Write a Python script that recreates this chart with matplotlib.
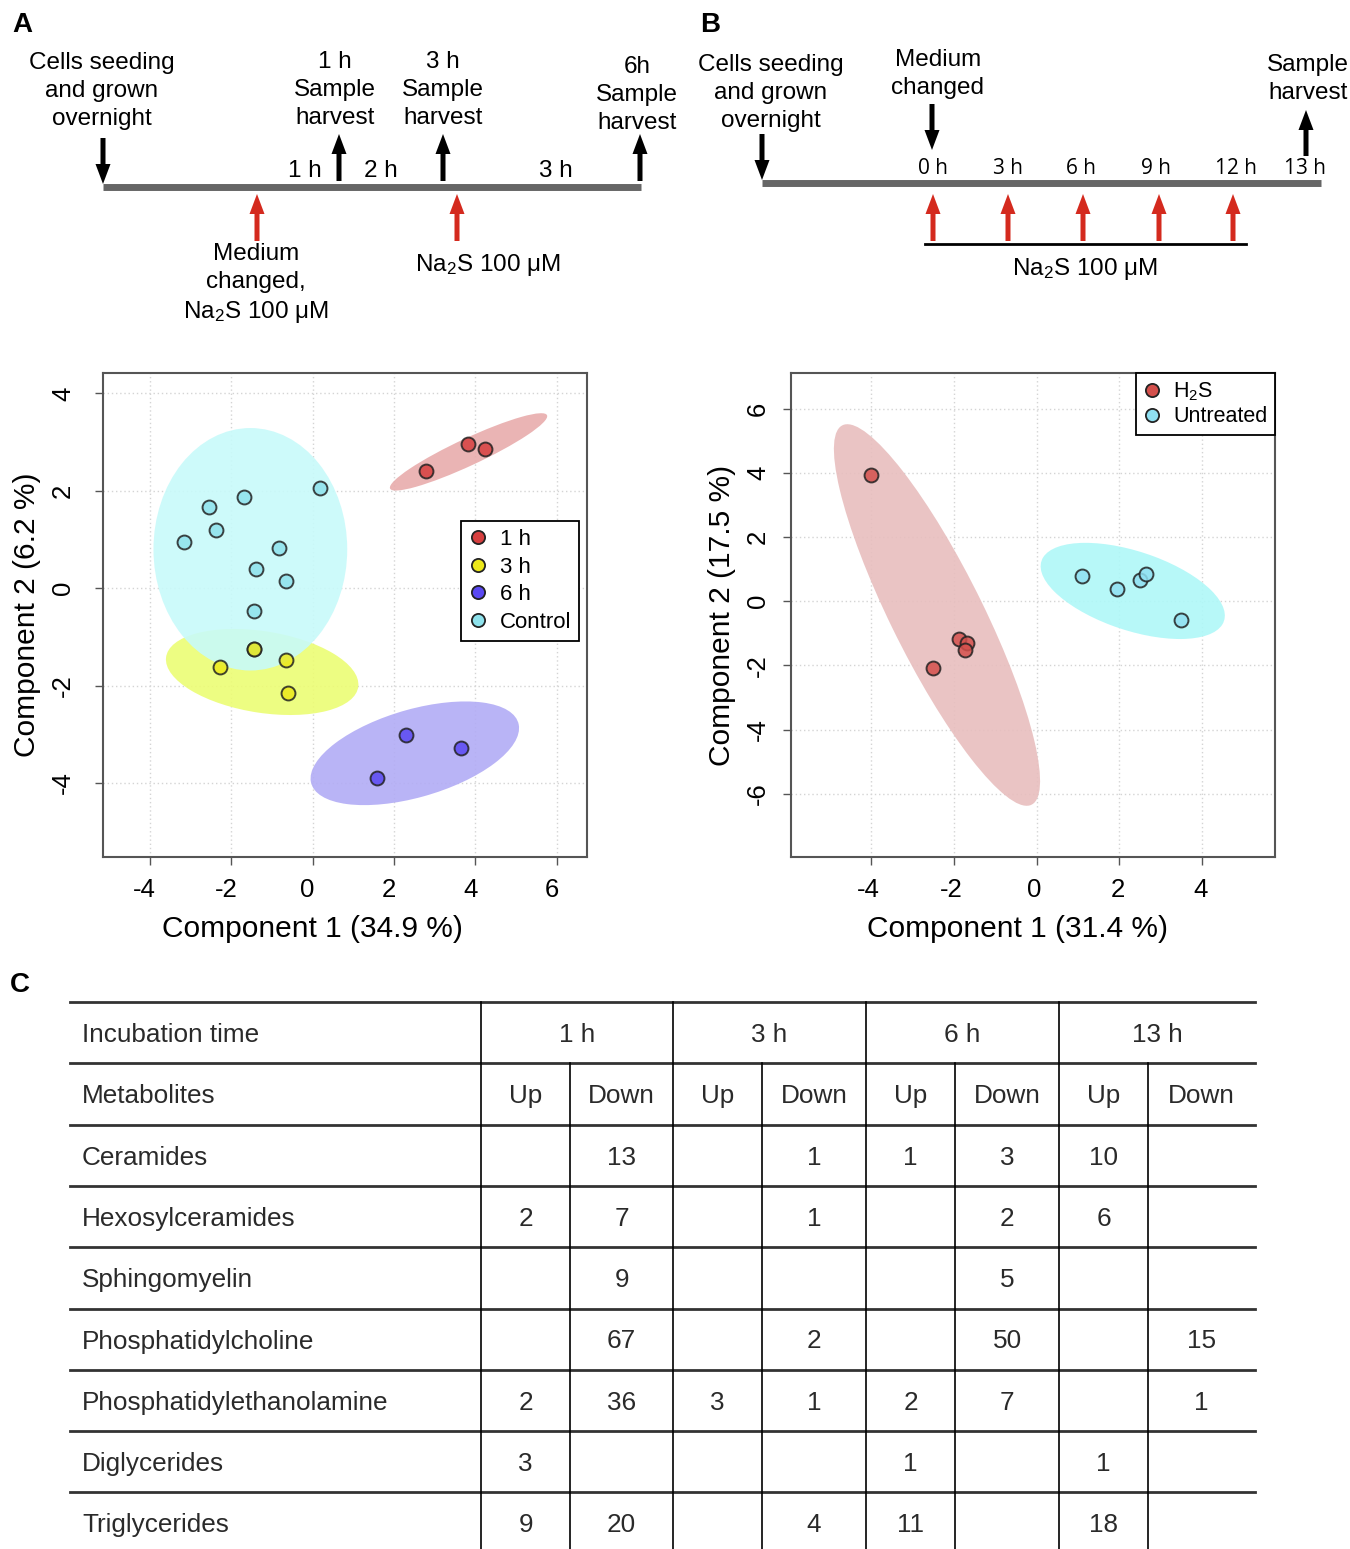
import numpy as np
import matplotlib
matplotlib.use("Agg")
import matplotlib.pyplot as plt
from matplotlib.patches import Ellipse, FancyArrow
from matplotlib.lines import Line2D
from matplotlib.transforms import ScaledTranslation

plt.rcParams["font.family"] = ["Liberation Sans", "DejaVu Sans"]
plt.rcParams["mathtext.fontset"] = "custom"
plt.rcParams["mathtext.rm"] = "Liberation Sans"
plt.rcParams["mathtext.it"] = "Liberation Sans:italic"
plt.rcParams["mathtext.bf"] = "Liberation Sans:bold"

# ---------------- panel A scores
a_groups = ["1 h", "3 h", "6 h", "Control"]
a_pc1 = [[2.79, 3.81, 4.24],
         [-2.28, -0.65, -0.61, -1.43],
         [2.29, 3.64, 1.57],
         [-3.15, -2.54, -2.37, -1.68, 0.17, -0.83, -1.38, -0.66, -1.45, -1.43]]
a_pc2 = [[2.41, 2.97, 2.86],
         [-1.62, -1.48, -2.15, -1.24],
         [-3.01, -3.29, -3.89],
         [0.95, 1.66, 1.19, 1.87, 2.05, 0.83, 0.39, 0.15, -0.47, -1.24]]
a_colors = ["#d63f3f", "#ece81a", "#5a48f2", "#8ee2ec"]
a_fills = ["#e8acac", "#ecfd74", "#b2acf5", "#c8fafa"]
# confidence ellipses: centre, semi axes, rotation (data units)
a_ell_cx = [3.83, -1.24, 2.51, -1.53]
a_ell_cy = [2.80, -1.72, -3.39, 0.80]
a_ell_a = [2.07, 2.38, 2.62, 2.38]
a_ell_b = [0.285, 0.84, 0.91, 2.49]
a_ell_ang = [21.2, -7.1, 13.0, 0.0]

# ---------------- panel B scores
b_groups = ["H$_2$S", "Untreated"]
b_pc1 = [[-3.98, -2.49, -1.87, -1.67, -1.72],
         [1.09, 1.95, 2.49, 2.63, 3.49]]
b_pc2 = [[3.92, -2.07, -1.19, -1.29, -1.51],
         [0.77, 0.38, 0.67, 0.85, -0.59]]
b_colors = ["#d4504c", "#8fe0f2"]
b_fills = ["#e8bebe", "#aff8f8"]
b_ell_cx = [-2.40, 2.32]
b_ell_cy = [-0.43, 0.32]
b_ell_a = [6.34, 2.40]
b_ell_b = [1.15, 1.19]
b_ell_ang = [-69.3, -25.9]

# ---------------- table C
time_points = ["1 h", "3 h", "6 h", "13 h"]
metabolites = ["Ceramides", "Hexosylceramides", "Sphingomyelin",
               "Phosphatidylcholine", "Phosphatidylethanolamine",
               "Diglycerides", "Triglycerides"]
# columns: 1h up, 1h down, 3h up, 3h down, 6h up, 6h down, 13h up, 13h down
counts = [["", "13", "", "1", "1", "3", "10", ""],
          ["2", "7", "", "1", "", "2", "6", ""],
          ["", "9", "", "", "", "5", "", ""],
          ["", "67", "", "2", "", "50", "", "15"],
          ["2", "36", "3", "1", "2", "7", "", "1"],
          ["3", "", "", "", "1", "", "1", ""],
          ["9", "20", "", "4", "11", "", "18", ""]]

W, H = 1350, 1549
fig = plt.figure(figsize=(W / 100, H / 100), dpi=100)
bg = fig.add_axes([0, 0, 1, 1])
bg.set_xlim(0, W)
bg.set_ylim(H, 0)
bg.axis("off")

TXT = 17.5


def arrow(x, y0, y1, color):
    bg.add_patch(FancyArrow(x, y0, 0, y1 - y0, width=5, head_width=15,
                            head_length=20, length_includes_head=True,
                            color=color, lw=0))


def label(x, y, s, size=TXT, **kw):
    bg.text(x, y, s, fontsize=size, ha="center", va="center",
            linespacing=1.36, **kw)


RED = "#d42a1e"
NA2S = "Na$_2$S 100 μM"

# ---- timeline A
bg.text(12, 25, "A", fontsize=20, fontweight="bold", va="center")
bg.plot([103, 641], [187, 187], color="#666666", lw=5, solid_capstyle="butt")
arrow(103, 138, 184, "black")
for xa in [339, 443, 640]:
    arrow(xa, 181, 134, "black")
for xa in [257, 457]:
    arrow(xa, 241, 194, RED)
label(102, 91, "Cells seeding\nand grown\novernight")
label(335, 90, "1 h\nSample\nharvest")
label(443, 90, "3 h\nSample\nharvest")
label(637, 95, "6h\nSample\nharvest")
for xs, s in zip([305, 381, 556], ["1 h", "2 h", "3 h"]):
    label(xs, 171, s)
label(256, 284, "Medium\nchanged,\n" + NA2S)
label(488, 265, NA2S)

# ---- timeline B
bg.text(700, 25, "B", fontsize=20, fontweight="bold", va="center")
bg.plot([762, 1321], [183, 183], color="#666666", lw=5, solid_capstyle="butt")
arrow(762, 134, 180, "black")
arrow(932, 104, 150, "black")
arrow(1306, 156, 110, "black")
for xa in [933, 1008, 1083, 1159, 1233]:
    arrow(xa, 241, 194, RED)
bg.plot([925, 1246], [244, 244], color="black", lw=2)
label(771, 93, "Cells seeding\nand grown\novernight")
label(938, 74, "Medium\nchanged")
label(1308, 79, "Sample\nharvest")
for xs, s in zip([933, 1008, 1081, 1156, 1236, 1305],
                 ["0 h", "3 h", "6 h", "9 h", "12 h", "13 h"]):
    bg.text(xs, 168, s, fontsize=15, ha="center", va="center",
            family=["Open Sans", "DejaVu Sans"])
label(1085, 269, NA2S)


# ---- PCA panels
def pca(rect, xs, ys, names, cols, fills, ecx, ecy, ea, eb, eang,
        xlim, ylim, xticks, yticks, xlab, ylab, leg_anchor, leg_loc,
        ypad, ylab_x, xlab_x, xshift, leg_fs, leg_sp):
    ax = fig.add_axes(rect)
    for cx, cy, a, b, ang, fc in zip(ecx, ecy, ea, eb, eang, fills):
        ax.add_patch(Ellipse((cx, cy), 2 * a, 2 * b, angle=ang, fc=fc,
                             ec="none", alpha=0.9, zorder=1))
    order = sorted(range(len(names)), key=lambda i: names[i] != "Control")
    for i in order:
        ax.scatter(xs[i], ys[i], s=100, c=cols[i], edgecolors="#222222",
                   linewidths=1.4, alpha=0.85, zorder=3)
    ax.set_xlim(*xlim)
    ax.set_ylim(*ylim)
    ax.set_xticks(xticks)
    ax.set_yticks(yticks)
    ax.set_xticklabels([str(t) for t in xticks])
    ax.set_yticklabels([str(t) for t in yticks])
    ax.grid(True, color="#d4d4d4", ls=(0, (1, 2)), lw=1)
    ax.set_axisbelow(True)
    for sp in ax.spines.values():
        sp.set_color("#555555")
        sp.set_linewidth(1.5)
    ax.tick_params(axis="x", length=6, width=1, color="#555555", pad=9,
                   labelsize=18.5)
    ax.tick_params(axis="y", length=6, width=1, color="#555555", pad=ypad,
                   labelsize=18.5, labelrotation=90)
    for t in ax.get_yticklabels():
        t.set_va("center")
    shift = ScaledTranslation(xshift / 100, 0, fig.dpi_scale_trans)
    for t in ax.get_xticklabels():
        t.set_transform(t.get_transform() + shift)
    ax.set_xlabel(xlab, fontsize=21.5, va="center")
    ax.set_ylabel(ylab, fontsize=21.5, va="center")
    ax.xaxis.set_label_coords(xlab_x, -0.149)
    ax.yaxis.set_label_coords(ylab_x, 0.5)
    handles = [Line2D([], [], ls="none", marker="o", ms=9.5, mfc=c,
                      mec="#222222", mew=1.3) for c in cols]
    leg = ax.legend(handles, names, loc=leg_loc, bbox_to_anchor=leg_anchor,
                    fontsize=leg_fs, frameon=True, fancybox=False,
                    edgecolor="black", framealpha=1, borderaxespad=0,
                    handlelength=0.8, handletextpad=0.6, labelspacing=leg_sp,
                    borderpad=0.35)
    leg.get_frame().set_linewidth(1.3)
    return ax


pca([103 / W, 1 - 857 / H, 484 / W, 484 / H], a_pc1, a_pc2, a_groups,
    a_colors, a_fills, a_ell_cx, a_ell_cy, a_ell_a, a_ell_b, a_ell_ang,
    (-5.15, 6.74), (-5.52, 4.42), [-4, -2, 0, 2, 4, 6], [-4, -2, 0, 2, 4],
    "Component 1 (34.9 %)", "Component 2 (6.2 %)", (0.74, 0.694),
    "upper left", 14, -0.157, 0.432, -5, 16, 0.3)
pca([791 / W, 1 - 857 / H, 484 / W, 484 / H], b_pc1, b_pc2, b_groups,
    b_colors, b_fills, b_ell_cx, b_ell_cy, b_ell_a, b_ell_b, b_ell_ang,
    (-5.92, 5.75), (-7.97, 7.11), [-4, -2, 0, 2, 4], [-6, -4, -2, 0, 2, 4, 6],
    "Component 1 (31.4 %)", "Component 2 (17.5 %)", (1.0, 1.0),
    "upper right", 9, -0.143, 0.467, -2, 15.5, 0.15)

# ---- table C
bg.text(10, 985, "C", fontsize=20, fontweight="bold", va="center")
col_edges = [70, 481, 570, 673, 762, 866, 955, 1059, 1148, 1255]
row_top = 1002
row_h = 61.3
n_rows = len(metabolites) + 2
row_lines = [row_top + i * row_h for i in range(n_rows)]
for yl in row_lines:
    bg.plot([col_edges[0], col_edges[-1]], [yl, yl], color="#333333", lw=2)
for j, xe in enumerate(col_edges[1:-1]):
    top = row_lines[0] if j % 2 == 0 else row_lines[1]
    bg.plot([xe, xe], [top, H], color="black", lw=1.2)

TFS = 18.8
TCOL = "#2a2a2a"
DY = 33
bg.text(82, row_lines[0] + DY, "Incubation time", fontsize=TFS, color=TCOL,
        va="center")
bg.text(82, row_lines[1] + DY, "Metabolites", fontsize=TFS, color=TCOL,
        va="center")
for k, tp in enumerate(time_points):
    xc = (col_edges[1 + 2 * k] + col_edges[3 + 2 * k]) / 2
    bg.text(xc, row_lines[0] + DY, tp, fontsize=TFS, color=TCOL,
            ha="center", va="center")
for c in range(8):
    xc = (col_edges[1 + c] + col_edges[2 + c]) / 2
    bg.text(xc, row_lines[1] + DY, "Up" if c % 2 == 0 else "Down",
            fontsize=TFS, color=TCOL, ha="center", va="center")
for r, name in enumerate(metabolites):
    yc = row_lines[2 + r] + DY
    bg.text(82, yc, name, fontsize=TFS, color=TCOL, va="center")
    for c in range(8):
        xc = (col_edges[1 + c] + col_edges[2 + c]) / 2
        bg.text(xc, yc, counts[r][c], fontsize=TFS, color=TCOL,
                ha="center", va="center")

fig.savefig("out.png", dpi=100)
